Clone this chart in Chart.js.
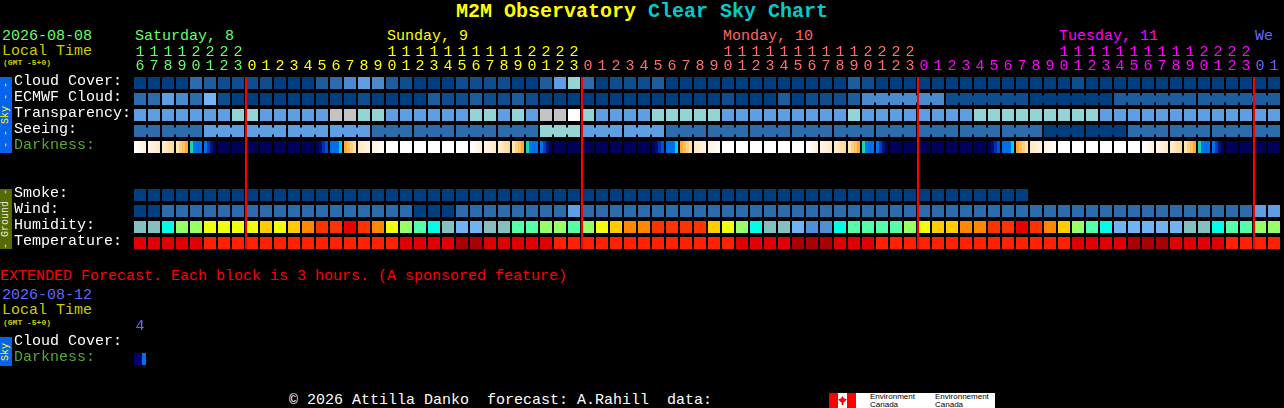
<!DOCTYPE html>
<html>
<head>
<meta charset="utf-8">
<title>M2M Observatory Clear Sky Chart</title>
<script src="https://cdn.jsdelivr.net/npm/chart.js@4"></script>
<style>
  html, body { margin: 0; padding: 0; background: #000; width: 1284px; height: 408px; overflow: hidden; }
  canvas { position: absolute; left: 0; }
  .t { position: absolute; white-space: pre; font: 15px/15px "Liberation Mono", monospace; }
  .small { font: bold 8px/8px "Liberation Mono", monospace; color: #cccc00; }
  .side { position: absolute; left: 0; width: 12px; overflow: hidden; writing-mode: vertical-rl; transform: rotate(180deg);
          white-space: pre; text-align: center; font: 10px/12px "Liberation Mono", monospace; }
  .box { position: absolute; }
  .logo { position: absolute; white-space: pre; color: #000; font: 8px/8px "Liberation Sans", sans-serif; }
</style>
</head>
<body>
<div class="t" style="left:456px;top:1px;font:bold 20px/22px 'Liberation Mono',monospace"><span style="color:#ffff00">M2M Observatory</span> <span style="color:#00cccc">Clear Sky Chart</span></div>

<div class="t" style="left:2px;top:29px;color:#66ff66">2026-08-08</div>
<div class="t" style="left:2px;top:44px;color:#cccc00">Local Time</div>
<div class="small t" style="left:3px;top:59px">(GMT -5+0)</div>
<div class="t" style="left:135px;top:29px;color:#66ff66">Saturday, 8</div>
<div class="t" style="left:387px;top:29px;color:#ffff00">Sunday, 9</div>
<div class="t" style="left:723px;top:29px;color:#ff6666">Monday, 10</div>
<div class="t" style="left:1059px;top:29px;color:#ff00ff">Tuesday, 11</div>
<div class="t" style="left:1255px;top:29px;color:#6666ff">We</div>

<div class="side" style="top:77px;height:76px;background:#0563ee;color:#ffff00">- - Sky - -</div>
<div class="side" style="top:189px;height:60px;background:#556b00;color:#e8e8e8">- Ground -</div>

<div class="t" style="left:0;top:269px;color:#ff0000">EXTENDED Forecast. Each block is 3 hours. (A sponsored feature)</div>
<div class="t" style="left:2px;top:288px;color:#6666ff">2026-08-12</div>
<div class="t" style="left:2px;top:303px;color:#cccc00">Local Time</div>
<div class="small t" style="left:3px;top:319px">(GMT -5+0)</div>
<div class="side" style="top:337px;height:29px;background:#0563ee;color:#ffff00">Sky</div>

<div class="t" style="left:289px;top:393px;color:#fff">© 2026 Attilla Danko  forecast: A.Rahill  data:</div>
<div class="box" style="left:829px;top:393px;width:166px;height:15px;background:#fff;overflow:hidden">
  <div class="box" style="left:0;top:0;width:9px;height:15px;background:#ff0000"></div>
  <div class="box" style="left:18px;top:0;width:9px;height:15px;background:#ff0000"></div>
  <div class="box" style="left:9px;top:3px;width:9px;height:9px;background:#ff0000;clip-path:polygon(50% 0,65% 25%,100% 40%,60% 75%,60% 100%,40% 100%,40% 75%,0 40%,35% 25%)"></div>
  <div class="logo" style="left:41px;top:0">Environment</div>
  <div class="logo" style="left:41px;top:8px">Canada</div>
  <div class="logo" style="left:106px;top:0">Environnement</div>
  <div class="logo" style="left:106px;top:8px">Canada</div>
</div>

<canvas id="skyChart" width="1284" height="251" style="top:0"></canvas>
<canvas id="extChart" width="1284" height="57" style="top:310px"></canvas>

<script>
const hourLabels = [
  16,17,18,19,20,21,22,23,
  0,1,2,3,4,5,6,7,8,9,10,11,12,13,14,15,16,17,18,19,20,21,22,23,
  0,1,2,3,4,5,6,7,8,9,10,11,12,13,14,15,16,17,18,19,20,21,22,23,
  0,1,2,3,4,5,6,7,8,9,10,11,12,13,14,15,16,17,18,19,20,21,22,23,
  0,1,
];
const dayColors = ["#66ff66", "#ffff00", "#ff6f66", "#ff00ff", "#6666ff"];
const rowLabels = ["Cloud Cover:", "ECMWF Cloud:", "Transparency:", "Seeing:", "Darkness:", "", "", "Smoke:", "Wind:", "Humidity:", "Temperature:"];
const extRowLabels = ["Cloud Cover:", "Darkness:"];
const extHourLabels = [4];

const cloudCover = [0,0,0,0,3,2,1,1, 1,1,0,0,0,2,3,4,5,4,2,1,0,0,0,1,1,1,1,0,0,2,5,7, 3,0,1,1,1,2,0,0,0,0,0,0,0,0,0,0,0,0,0,2, 1,0,0,0,0,0,0,0,0,0,0,0,0,0,0,1,0,0,0,0,0,0,0,0,0,0,0,0,0,0];
const ecmwfCloud = [3,3,5,4,3,6,1,0, 0,0,0,0,0,0,0,0,1,0,0,0,0,2,1,1,2,1,1,2,1,0,0,0, 0,0,0,0,0,0,0,0,0,0,1,0,0,0,2,0,1,1,1,2, 4,4,4,4,4,4,1,1,1,1,1,1,0,0,0,0,0,0,2,2,2,2,2,2,2,2,2,2,2,2];
const transparency = [5,5,5,5,5,5,5,7, 7,5,5,5,5,5,8,8,7,7,5,5,5,5,5,5,7,7,5,7,5,8,8,9, 7,5,5,5,5,7,7,7,7,7,5,5,5,5,5,5,5,5,5,7, 5,5,5,5,5,5,5,5,7,7,7,7,7,7,7,7,7,5,5,5,5,5,5,5,5,5,5,5,5,5];
const seeing = [3,3,3,3,3,5,5,5, 5,5,5,5,5,5,5,5,5,3,3,3,3,3,3,3,3,3,3,3,3,7,7,7, 5,5,5,5,5,5,3,3,3,3,3,3,3,3,3,3,3,3,3,3, 3,3,3,3,3,3,3,3,3,3,3,3,3,0,0,0,0,0,0,3,3,3,3,3,3,3,3,3,3,3];
const smoke = [0,0,0,0,0,0,0,0, 0,0,0,0,0,0,0,0,0,0,0,0,0,0,0,0,0,0,0,0,0,0,0,0, 0,0,0,0,0,0,0,0,0,0,0,0,0,0,0,0,0,0,0,0, 0,0,0,0,0,0,0,0,0,0,0,0];
const wind = [0,0,3,3,3,3,3,3, 3,3,3,3,3,3,3,3,3,3,3,3,0,0,0,3,3,3,3,3,3,3,3,5, 3,3,3,3,3,3,3,3,3,3,3,3,3,3,3,3,3,3,3,3, 3,3,3,3,3,3,3,3,3,3,3,3,3,3,3,3,3,3,3,3,3,3,3,3,3,3,3,3,5,5];
// humidity codes index humidityColors
const humidity = [0,0,3,5,5,6,6,6, 6,7,6,7,8,9,9,10,9,8,6,5,4,3,0,1,1,0,0,4,4,5,5,4, 5,6,7,8,8,9,9,9,9,7,6,5,3,0,0,1,2,2,3,4, 4,4,4,5,6,7,7,8,8,9,9,10,9,8,7,5,4,3,1,1,1,1,1,0,0,3,4,4,5,5];
const temperature = [1,1,1,1,1,2,2,2, 2,2,2,2,2,2,2,2,2,2,2,1,1,1,1,0,0,1,1,1,1,1,2,2, 2,2,2,2,2,2,2,2,2,2,2,1,1,1,1,0,0,0,1,1, 1,2,2,2,2,2,2,2,2,2,2,2,2,2,2,1,1,1,1,0,0,0,1,1,1,1,2,2,2,2];
// one code per hour, each code is a run of sky bands across the hour
const darkness = ["A","B","C","D","E","F","N","N", "N","N","N","N","N","G","H","I","J","K","W","W","W","W","W","W","A","B","C","D","E","F","N","N", "N","N","N","N","N","G","H","I","J","K","W","W","W","W","W","W","A","B","C","D","E","F","N","N", "N","N","N","N","N","G","H","I","J","K","W","W","W","W","W","W","A","B","C","D","E","F","N","N", "N","N"];
const extDarkness = ["X"];
const seeingBlocks = [2,3,3,3,3,3,3,3,3,3,3,3,3,3,3,3,3,3,3,3,3,3,3,3,3,3,3,3];
const ecmwfBlocks = [1,1,1,1,1,1,1,1,1,1,1,1,1,1,1,1,1,1,1,1,1,1,1,1,1,1,1,1,1,1,1,1,1,1,1,1,1,1,1,1,1,1,1,1,1,1,1,1,1,1,1,1,6,6,6,6,6];

const skyColors = ["#003f7f", "#0f4e8e", "#1e5d9d", "#2d6cac", "#4b8bcd", "#5e9ee2", "#75b4fa", "#94d4d4", "#c4c4c4", "#ffffff"];
const humidityColors = ["#86bfbf", "#72b2f2", "#4f8fd5", "#00ffe8", "#55ffaa", "#99ff66", "#eeff11", "#ffcc00", "#ff8800", "#ff3300", "#e60000"];
const tempColors = ["#a80000", "#e00000", "#ff2200"];
const darkBands = {
  W: ["#ffffff"],
  A: ["#ffffff", "#fffbf2", "#fff6e6", "#fff2dc"],
  B: ["#fff5e6", "#fff2dc", "#ffeed2", "#ffeac6"],
  C: ["#ffeccc", "#ffe7bf", "#ffe0ad", "#ffd89a"],
  D: ["#ffe4b4", "#ffd080", "#ffc060", "#ffa830"],
  E: ["#20d0b0", "#0078e8", "#0070e8", "#0070e8"],
  F: ["#0070e8", "#0040c0", "#000f80", "#000060"],
  N: ["#00005a"],
  G: ["#000060", "#000a80", "#0030b0", "#0050d0"],
  H: ["#0070e8", "#0070e8", "#0070e8", "#00ccff"],
  I: ["#ffa830", "#ffc060", "#ffd080", "#ffe0a8"],
  J: ["#ffe8c4", "#ffecce", "#ffefd6", "#fff2de"],
  K: ["#fff2e0", "#fff6ea", "#fffaf2", "#fffdf8"],
  X: ["#000070", "#000070", "#0070e8"],
};

const FONT = { family: "'Liberation Mono', monospace", size: 15, lineHeight: "15px" };
const HOUR_FONT = { family: "'Liberation Mono', monospace", size: 15, lineHeight: "14px" };

const dayIndexOf = (index) => {
  let day = 0;
  for (let i = 1; i <= index; i++) {
    if (hourLabels[i] === 0) day++;
  }
  return day;
};

// hard edged bands across a single cell
const bandFill = (c, codes) => {
  const bands = darkBands[codes[c.dataIndex]];
  if (bands.length === 1) return bands[0];
  const xScale = c.chart.scales.x;
  const centre = xScale.getPixelForTick(c.dataIndex);
  const grad = c.chart.ctx.createLinearGradient(centre - 6, 0, centre + 6, 0);
  bands.forEach((col, i) => {
    grad.addColorStop(i / bands.length, col);
    grad.addColorStop((i + 1) / bands.length, col);
  });
  return grad;
};

const cellData = (values, row) => values.map(() => [row - 0.375, row + 0.375]);

const rowDataset = (values, row, colorOf) => ({
  type: "bar",
  data: cellData(values, row),
  backgroundColor: colorOf,
  grouped: false,
  barPercentage: 12 / 14,
  categoryPercentage: 1,
  borderWidth: 0,
});

// necks between cells that belong to the same forecast block
const linkDataset = (values, row, palette, blocks) => {
  const linked = [];
  blocks.forEach((len) => {
    for (let i = 0; i < len; i++) linked.push(i < len - 1);
  });
  return {
    type: "line",
    data: values.map(() => row),
    pointRadius: 0,
    borderWidth: 7,
    borderColor: "transparent",
    borderCapStyle: "butt",
    segment: {
      borderColor: (c) => (linked[c.p0DataIndex] ? palette[values[c.p0DataIndex]] : "transparent"),
    },
  };
};

const midnightLines = {
  id: "midnightLines",
  afterDatasetsDraw(chart) {
    const { ctx, scales, chartArea } = chart;
    ctx.fillStyle = "#ff0000";
    hourLabels.forEach((h, i) => {
      if (h !== 0) return;
      const x = scales.x.getPixelForTick(i) - 7;
      ctx.fillRect(x, chartArea.top + 2, 2, chartArea.height - 4);
    });
  },
};

const createChart = (id, labels, rows, datasets, topHeight, colorOfHour, plugins) =>
  new Chart(document.getElementById(id), {
    type: "bar",
    data: { labels: labels, datasets: datasets },
    plugins: plugins,
    options: {
      responsive: false,
      animation: false,
      events: [],
      layout: { padding: { left: 14, right: 3, top: 0, bottom: 0 } },
      plugins: { legend: { display: false }, tooltip: { enabled: false } },
      scales: {
        x: {
          position: "top",
          offset: true,
          grid: { display: false, drawTicks: false },
          border: { display: false },
          afterFit: (s) => { s.height = topHeight; },
          ticks: {
            autoSkip: false,
            maxRotation: 0,
            padding: 2,
            font: HOUR_FONT,
            color: (c) => colorOfHour(c.index),
            callback: function (value, index) {
              const h = labels[index];
              if (h === undefined || h === "") return "";
              return h >= 10 ? [String(h)[0], String(h)[1]] : String(h);
            },
          },
        },
        y: {
          type: "linear",
          reverse: true,
          min: -0.5,
          max: rows.length - 0.5,
          grid: { display: false, drawTicks: false },
          border: { display: false },
          afterFit: (s) => { s.width = 119; s.paddingTop = 0; s.paddingBottom = 0; },
          afterBuildTicks: (s) => {
            s.ticks = rows.map((_, i) => ({ value: i - 0.125 }));
          },
          ticks: {
            autoSkip: false,
            crossAlign: "far",
            padding: 0,
            font: FONT,
            color: (c) => (rows[c.index] === "Darkness:" ? "#55aa33" : "#ffffff"),
            callback: (value) => rows[Math.round(value + 0.125)],
          },
        },
      },
    },
  });

createChart(
  "skyChart",
  hourLabels,
  rowLabels,
  [
    rowDataset(cloudCover, 0, (c) => skyColors[cloudCover[c.dataIndex]]),
    rowDataset(ecmwfCloud, 1, (c) => skyColors[ecmwfCloud[c.dataIndex]]),
    linkDataset(ecmwfCloud, 1, skyColors, ecmwfBlocks),
    rowDataset(transparency, 2, (c) => skyColors[transparency[c.dataIndex]]),
    rowDataset(seeing, 3, (c) => skyColors[seeing[c.dataIndex]]),
    linkDataset(seeing, 3, skyColors, seeingBlocks),
    rowDataset(darkness, 4, (c) => bandFill(c, darkness)),
    rowDataset(smoke, 7, (c) => skyColors[smoke[c.dataIndex]]),
    rowDataset(wind, 8, (c) => skyColors[wind[c.dataIndex]]),
    rowDataset(humidity, 9, (c) => humidityColors[humidity[c.dataIndex]]),
    rowDataset(temperature, 10, (c) => tempColors[temperature[c.dataIndex]]),
  ],
  75,
  (i) => dayColors[dayIndexOf(i)],
  [midnightLines]
);

createChart(
  "extChart",
  hourLabels.map((_, i) => (i < extHourLabels.length ? extHourLabels[i] : "")),
  extRowLabels,
  [rowDataset(extDarkness, 1, (c) => bandFill(c, extDarkness))],
  25,
  () => "#6666ff",
  []
);
</script>
</body>
</html>
